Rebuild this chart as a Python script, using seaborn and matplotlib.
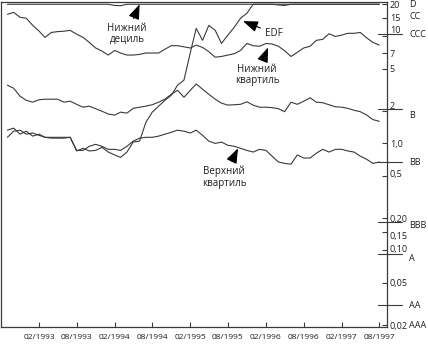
import matplotlib
matplotlib.use("Agg")
import matplotlib.pyplot as plt
import matplotlib.dates as mdates
from matplotlib.ticker import NullLocator
from matplotlib.transforms import ScaledTranslation
import pandas as pd
import seaborn as sns

# Monthly observations, 09/1992 - 08/1997 (EDF, % per year)
months = pd.date_range("1992-09-01", periods=60, freq="MS")

lower_decile = [20, 20, 20, 20, 20, 20, 20, 20, 20, 20,
                20, 20, 20, 20, 20, 20, 20, 19.5, 19.4, 20,
                20, 20, 20, 20, 20, 20, 20, 20, 20, 20,
                20, 20, 20, 20, 20, 20, 20, 20, 20, 20,
                20, 20, 20, 19.7, 19.5, 20, 20, 20, 20, 20,
                20, 20, 20, 20, 20, 20, 20, 20, 20, 20]

lower_quartile = [16.1, 16.8, 15.1, 14.8, 12.7, 11.2, 9.8, 10.9, 11.1, 11.2,
                  11.4, 10.5, 9.8, 8.8, 7.8, 7.3, 6.7, 7.4, 7.0, 6.7,
                  6.7, 6.8, 7.0, 7.0, 7.0, 7.6, 8.2, 8.2, 8.0, 7.8,
                  8.3, 7.9, 7.2, 6.4, 6.5, 6.7, 6.9, 7.4, 8.6, 8.2,
                  8.1, 8.6, 8.5, 8.1, 7.35, 6.5, 7.1, 7.8, 8.1, 9.2,
                  9.4, 10.6, 10.0, 10.3, 10.7, 10.7, 10.9, 9.7, 8.8, 8.3]

median = [3.50, 3.28, 2.76, 2.53, 2.43, 2.56, 2.59, 2.59, 2.59, 2.43,
          2.48, 2.32, 2.18, 2.23, 2.11, 2.00, 1.88, 1.84, 1.96, 1.92,
          2.13, 2.18, 2.23, 2.30, 2.43, 2.59, 2.88, 3.14, 2.70, 3.14,
          3.60, 3.21, 2.88, 2.59, 2.38, 2.28, 2.30, 2.32, 2.45, 2.28,
          2.18, 2.18, 2.16, 2.11, 1.98, 2.43, 2.32, 2.48, 2.67, 2.43,
          2.40, 2.30, 2.20, 2.18, 2.13, 2.04, 1.98, 1.84, 1.67, 1.61]

upper_quartile = [1.33, 1.39, 1.22, 1.30, 1.17, 1.22, 1.14, 1.14, 1.14, 1.14,
                  1.14, 0.86, 0.86, 0.94, 0.98, 0.94, 0.88, 0.88, 0.86, 0.94,
                  1.05, 1.12, 1.14, 1.14, 1.17, 1.22, 1.27, 1.33, 1.30, 1.25,
                  1.33, 1.19, 1.05, 1.00, 1.03, 0.96, 0.94, 0.90, 0.86, 0.83,
                  0.88, 0.86, 0.76, 0.67, 0.65, 0.64, 0.78, 0.73, 0.73, 0.81,
                  0.88, 0.83, 0.88, 0.88, 0.85, 0.83, 0.76, 0.71, 0.65, 0.67]

edf = [1.14, 1.30, 1.33, 1.22, 1.25, 1.19, 1.14, 1.12, 1.12, 1.12,
       1.14, 0.85, 0.90, 0.85, 0.86, 0.92, 0.83, 0.78, 0.74, 0.83,
       1.03, 1.05, 1.57, 1.96, 2.23, 2.53, 2.82, 3.50, 3.90, 7.1,
       11.9, 9.2, 12.7, 11.4, 8.6, 10.3, 12.2, 14.8, 16.5, 20,
       20, 20, 20, 20, 20, 20, 20, 20, 20, 20,
       20, 20, 20, 20, 20, 20, 20, 20, 20, 20]

# Right-hand scale
ytick_values = [20, 15, 10, 7, 5, 2, 1.0, 0.5, 0.20, 0.15, 0.10, 0.05, 0.02]
ytick_labels = ["20", "15", "10", "7", "5", "2", "1,0", "0,5",
                "0,20", "0,15", "0,10", "0,05", "0,02"]

# Rating grades and the EDF level each one maps to
ratings = ["D", "CC", "CCC", "B", "BB", "BBB", "A", "AA", "AAA"]
rating_levels = [20, 15.4, 10.5, 2.09, 0.667, 0.184, 0.092, 0.0308, 0.02]

xtick_dates = pd.date_range("1993-02-01", "1997-08-01", freq="6MS")

sns.set_theme(style="white")
plt.rcParams["font.family"] = ["Open Sans", "DejaVu Sans"]

ink = "#3a3a3a"
text_ink = "#1e1e1e"

df = pd.DataFrame({
    "month": list(months) * 5,
    "edf": lower_decile + lower_quartile + median + upper_quartile + edf,
    "series": (["Нижний дециль"] * 60 + ["Нижний квартиль"] * 60 +
               ["Медиана"] * 60 + ["Верхний квартиль"] * 60 + ["EDF"] * 60),
})

fig = plt.figure(figsize=(4.28, 3.47), dpi=100)
ax = fig.add_axes([1 / 428, 20 / 347, 386 / 428, 325 / 347])

sns.lineplot(data=df, x="month", y="edf", hue="series",
             palette={s: ink for s in df["series"].unique()},
             legend=False, lw=0.8, ax=ax)

ax.set_yscale("log")
ax.set_ylim(0.0192, 21)
ax.set_xlim(pd.Timestamp("1992-08-01"), pd.Timestamp("1997-09-07"))
ax.set_xlabel("")
ax.set_ylabel("")

for sp in ax.spines.values():
    sp.set_color(ink)
    sp.set_linewidth(0.9)
    sp.set_visible(True)

# y axis on the right, ticks pointing inwards
ax.yaxis.tick_right()
ax.set_yticks(ytick_values, ytick_labels)
ax.yaxis.set_minor_locator(NullLocator())
ax.tick_params(axis="y", which="major", direction="in", length=3.5, width=0.8,
               color=ink, pad=2, labelsize=6.5, labelcolor=text_ink,
               right=True, left=False)

ax.set_xticks(xtick_dates)
ax.xaxis.set_major_formatter(mdates.DateFormatter("%m/%Y"))
ax.xaxis.set_minor_locator(NullLocator())
ax.tick_params(axis="x", which="major", direction="in", length=3.5, width=0.8,
               color=ink, pad=5, labelsize=6, labelcolor=text_ink,
               bottom=True, top=False)

# nudge a few scale labels clear of the grade lines (pixels, +up)
nudges = {"10": 7, "2": 6, "0,15": -4, "0,10": 2, "0,5": 2}
for lab in ax.get_yticklabels():
    dy = nudges.get(lab.get_text(), 0)
    if dy:
        lab.set_transform(lab.get_transform() +
                          ScaledTranslation(0, dy / 100, fig.dpi_scale_trans))

# grade boundary marks crossing the scale, and grade names
yax = ax.get_yaxis_transform()
label_shift = {"B": -6, "BBB": -3, "A": -4}
for name, lvl in zip(ratings, rating_levels):
    if name not in ("D", "CC", "AAA"):
        ax.plot([0.977, 1.04], [lvl, lvl], transform=yax, color=ink,
                lw=0.8, clip_on=False)
    tr = yax + ScaledTranslation(0, label_shift.get(name, 0) / 100,
                                 fig.dpi_scale_trans)
    ax.text(1.058, lvl, name, transform=tr, ha="left", va="center",
            fontsize=6.5, color=text_ink, clip_on=False)

# callouts
arrow = dict(arrowstyle="-|>,head_length=0.7,head_width=0.26", color="black",
             lw=0.8, shrinkA=1, shrinkB=0, mutation_scale=13)
callouts = [
    ("Нижний\nдециль", "1994-04-01", 10.5, "1994-06-01", 20),
    ("EDF", "1996-03-10", 10.7, "1995-10-13", 13.9),
    ("Нижний\nквартиль", "1995-12-19", 4.34, "1996-02-11", 7.9),
    ("Верхний\nквартиль", "1995-07-13", 0.483, "1995-09-19", 0.90),
]
for txt, tx, ty, px, py in callouts:
    ax.annotate(txt, xy=(pd.Timestamp(px), py), xytext=(pd.Timestamp(tx), ty),
                ha="center", va="center", fontsize=7, color=text_ink,
                linespacing=1.05, arrowprops=arrow)

fig.savefig("out.png", dpi=100)
